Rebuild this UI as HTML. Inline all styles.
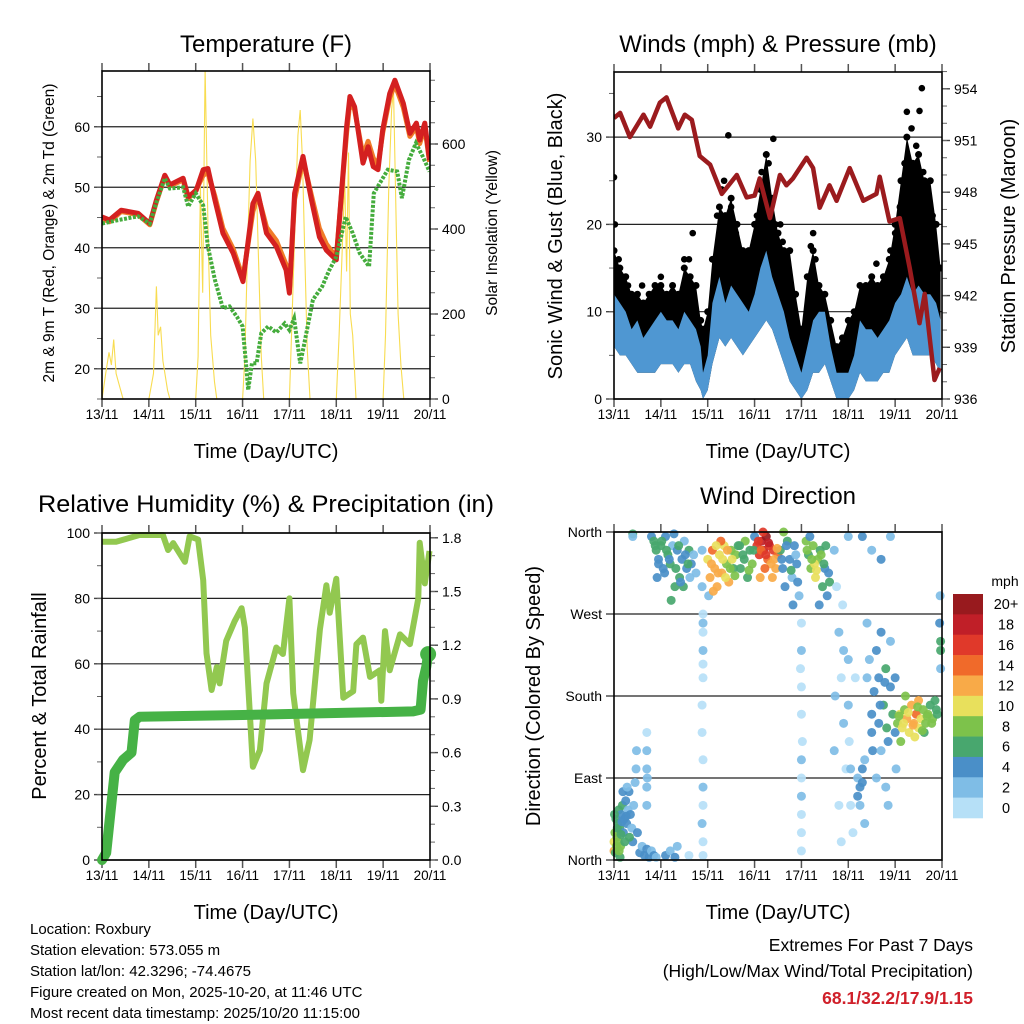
<!DOCTYPE html>
<html><head><meta charset="utf-8">
<style>
html,body{margin:0;padding:0;background:#fff;}
svg{display:block;font-family:"Liberation Sans",sans-serif;}
</style></head>
<body>
<svg id="fig" width="1024" height="1024" viewBox="0 0 1024 1024" xmlns="http://www.w3.org/2000/svg">
<rect width="1024" height="1024" fill="#fff"/>
<g id="g1"></g>
<g id="g2"></g>
<g id="g3"></g>
<g id="g4"></g>
<g id="g5"></g>
<text x="266" y="52" font-size="24" text-anchor="middle">Temperature (F)</text>
<text x="778" y="52" font-size="24" text-anchor="middle">Winds (mph) &amp; Pressure (mb)</text>
<text x="266" y="512" font-size="24" text-anchor="middle" textLength="456" lengthAdjust="spacingAndGlyphs">Relative Humidity (%) &amp; Precipitation (in)</text>
<text x="778" y="504" font-size="24" text-anchor="middle">Wind Direction</text>
<text x="266" y="458" font-size="20" text-anchor="middle">Time (Day/UTC)</text>
<text x="778" y="458" font-size="20" text-anchor="middle">Time (Day/UTC)</text>
<text x="266" y="919" font-size="20" text-anchor="middle">Time (Day/UTC)</text>
<text x="778" y="919" font-size="20" text-anchor="middle">Time (Day/UTC)</text>
<text transform="translate(54,233) rotate(-90)" font-size="15.5" text-anchor="middle">2m &amp; 9m T (Red, Orange) &amp; 2m Td (Green)</text>
<text transform="translate(497,233) rotate(-90)" font-size="15.5" text-anchor="middle">Solar Insolation (Yellow)</text>
<text transform="translate(562,236) rotate(-90)" font-size="20" text-anchor="middle">Sonic Wind &amp; Gust (Blue, Black)</text>
<text transform="translate(1015,236) rotate(-90)" font-size="20" text-anchor="middle">Station Pressure (Maroon)</text>
<text transform="translate(46,696) rotate(-90)" font-size="20" text-anchor="middle">Percent &amp; Total Rainfall</text>
<text transform="translate(540,696) rotate(-90)" font-size="20" text-anchor="middle">Direction (Colored By Speed)</text>
<g font-size="15">
<text x="30" y="934">Location: Roxbury</text>
<text x="30" y="955">Station elevation: 573.055 m</text>
<text x="30" y="976">Station lat/lon: 42.3296; -74.4675</text>
<text x="30" y="997">Figure created on Mon, 2025-10-20, at 11:46 UTC</text>
<text x="30" y="1018">Most recent data timestamp: 2025/10/20 11:15:00</text>
</g>
<g font-size="17.5" text-anchor="end">
<text x="973" y="951">Extremes For Past 7 Days</text>
<text x="973" y="977">(High/Low/Max Wind/Total Precipitation)</text>
<text x="973" y="1004" fill="#d0202a" font-weight="bold">68.1/32.2/17.9/1.15</text>
</g>
</svg>
<script>
// ---------- data ----------
const dayLabels=["13/11","14/11","15/11","16/11","17/11","18/11","19/11","20/11"];
const tempTimes=[0,0.16,0.41,0.77,1.02,1.16,1.34,1.45,1.73,1.84,2.01,2.16,2.26,2.41,2.58,2.8,3.01,3.22,3.33,3.51,3.72,3.93,4.0,4.11,4.29,4.47,4.64,4.79,5.0,5.22,5.29,5.39,5.57,5.68,5.79,5.89,5.99,6.14,6.25,6.43,6.57,6.71,6.78,6.89,6.99];
const tempRed=[45.1,44.6,46.2,45.7,44.0,47.9,52.0,50.4,51.5,48.4,49.5,52.9,53.1,47.9,42.4,39.1,34.4,47.3,49.0,42.4,40.2,36.3,32.5,49.0,55.1,47.9,41.8,39.6,38.0,60.0,65.0,63.3,54.0,56.7,53.4,52.9,59.5,65.5,67.7,63.9,58.9,60.6,57.8,60.6,54.5];
const tempOrange=[44.8,44.3,46.0,45.5,43.8,47.6,51.8,50.2,51.2,48.1,49.6,52.0,52.4,48.5,43.2,39.8,35.0,46.0,48.7,43.4,41.2,37.2,33.0,48.0,54.6,48.6,43.2,40.6,38.4,59.0,64.2,62.8,55.2,57.6,54.8,53.6,59.0,64.8,67.0,63.2,58.4,60.0,57.2,60.0,54.2];
const dewTimes=[0,0.3,0.77,1.02,1.16,1.34,1.45,1.73,1.84,2.0,2.16,2.26,2.41,2.58,2.72,2.88,3.0,3.08,3.12,3.2,3.3,3.4,3.55,3.72,3.9,4.0,4.1,4.23,4.3,4.5,4.7,4.85,5.0,5.2,5.35,5.5,5.7,5.8,6.1,6.3,6.4,6.55,6.7,6.85,6.99];
const dewValues=[44.0,44.5,45.2,44.0,47.5,51.5,49.8,50.0,46.8,49.0,47.0,40.2,34.7,30.0,30.3,28.6,27.0,20.3,16.5,20.9,20.9,25.9,27.0,26.0,27.5,26.4,28.3,20.9,23.5,31.4,33.6,36.3,38.5,45.1,42.4,39.1,36.9,49.0,52.9,52.6,48.2,54.5,57.3,55.0,52.6];
const solarTimes=[0,0.08,0.15,0.2,0.25,0.3,0.35,0.45, 1.0,1.1,1.16,1.2,1.25,1.3,1.4,1.45, 2.0,2.05,2.1,2.15,2.2,2.23,2.27,2.32,2.4,2.45, 3.0,3.05,3.1,3.16,3.22,3.28,3.34,3.4,3.45, 4.0,4.06,4.12,4.18,4.23,4.28,4.33,4.38,4.44, 5.0,5.06,5.12,5.18,5.22,5.26,5.3,5.35,5.42, 6.0,6.05,6.12,6.18,6.22,6.28,6.32,6.38,6.44];
const solarValues=[0,60,110,80,140,60,40,0, 0,60,265,150,170,90,20,0, 0,100,500,250,779,600,350,150,40,0, 0,100,330,560,660,560,330,100,0, 0,200,420,620,680,560,330,120,0, 0,150,330,520,300,580,200,150,0, 0,150,500,680,730,400,200,80,0];
const windTimes=[0,0.125,0.25,0.375,0.5,0.625,0.75,0.875,1.0,1.125,1.25,1.375,1.5,1.625,1.75,1.85,1.9,2.0,2.1,2.25,2.375,2.5,2.625,2.75,2.875,3.0,3.125,3.25,3.375,3.5,3.625,3.75,3.875,4.0,4.125,4.25,4.375,4.5,4.625,4.75,4.875,5.0,5.125,5.25,5.375,5.5,5.625,5.75,5.875,6.0,6.125,6.25,6.375,6.5,6.625,6.75,6.875,6.97];
const windHigh=[12,11,10,8,9,7,8,9,10,9,9,8,10,9,8,6,3,5,11,14,11,13,12,11,10,12,15,17,14,12,10,7,5,3,6,9,10,10,6,3,3,3,5,9,8,8,7,8,9,11,12,14,12,13,12,12,11,9];
const windLow=[6,5,5,4,3,3,3,3,4,4,4,3,4,4,2,1,0,1,4,7,6,7,6,5,6,7,8,9,8,6,4,2,1,0,1,3,3,4,2,0,0,0,1,3,2,2,2,3,3,5,6,7,5,5,5,5,4,3];
const gustHigh=[17,15,14,12,12,11,12,13,13,12,13,12,15,14,13,9,8,10,16,22,21,23,20,17,17,20,24,28,23,19,17,17,12,8,14,17,13,12,9,6,7,9,10,13,13,14,13,14,16,20,25,30,27,28,25,25,20,15];
const gustDotTimes=[0.0,2.44,6.57,6.25,3.4,1.68,5.6,6.52,0.02,3.3,2.3,2.5,2.6,2.2,3.15,3.25,3.45,3.6,6.1,6.2,6.35,6.45,6.6,6.7,6.8,4.2,4.3,0.1,0.3,0.6,1.0,1.3,1.5,1.6,5.9,6.0,2.35,3.05,3.55,4.25];
const gustDotValues=[25.4,30.2,35.6,32.9,29.8,19.0,15.5,33.0,20.0,27.0,24.0,22.0,19.0,21.0,26.0,25.0,20.0,18.0,22.0,27.0,31.0,29.0,26.0,24.0,21.0,17.5,16.0,16.0,13.0,13.0,14.0,12.0,16.0,16.0,17.0,19.0,25.0,21.0,20.0,19.0];
const pressTimes=[0,0.13,0.34,0.63,0.77,0.98,1.12,1.37,1.51,1.66,1.83,2.05,2.3,2.62,2.83,3.0,3.11,3.33,3.54,3.68,3.82,4.11,4.25,4.39,4.6,4.75,5.03,5.32,5.6,5.67,5.88,6.1,6.31,6.52,6.63,6.84,6.95];
const pressValues=[952.3,952.6,951.2,952.5,951.8,953.2,953.5,951.7,952.5,952.2,950.1,949.6,947.9,949.0,947.7,947.8,948.8,946.5,949.0,948.4,948.8,950.0,949.4,947.1,948.4,947.5,949.4,947.5,947.9,948.9,946.3,946.5,943.6,940.4,942.1,937.1,937.8];
const rhTimes=[0,0.3,0.8,1.3,1.41,1.52,1.77,1.87,2.05,2.16,2.23,2.34,2.45,2.51,2.65,2.83,2.98,3.05,3.22,3.37,3.51,3.72,3.86,4.0,4.08,4.29,4.43,4.65,4.79,4.86,5.0,5.15,5.36,5.43,5.57,5.72,5.93,5.96,6.04,6.14,6.36,6.57,6.75,6.78,6.89,6.99];
const rhValues=[97.3,97.3,99.4,99.4,94.8,96.9,91.2,99,98,85.6,63.2,52,59,54,67,73,77,71,28.5,33.6,54,65,63,80,51,27.5,36.7,70.5,84,75.6,86,49.6,51.6,66,68,56,58,48.7,70,58,69,66,80,97,84.6,94.5];
const rainTimes=[0,0.09,0.27,0.45,0.63,0.7,0.8,3.0,6.64,6.8,6.85,6.92,6.96];
const rainValues=[0,0.04,0.49,0.56,0.6,0.78,0.8,0.81,0.83,0.84,1.0,1.08,1.15];
const dirTimes=[0.0,0.0,0.02,0.04,0.06,0.08,0.1,0.12,0.14,0.16,0.18,0.2,0.22,0.25,0.27,0.3,0.32,0.35,0.38,0.4,0.42,0.45,0.47,0.48,0.5,0.55,0.6,0.65,0.7,0.75,0.8,0.85,0.9,0.03,0.01,0.09,0.13,0.19,0.28,
0.7,0.7,0.7,0.7,0.7,0.71,1.1,1.2,1.3,1.35,1.6,
0.8,0.85,0.9,0.95,1.0,1.05,1.1,1.15,1.2,1.25,1.3,1.35,1.4,1.45,1.5,1.55,1.6,1.65,1.7,1.75,0.92,1.22,1.28,1.48,0.4,0.4,
1.88,1.88,1.9,1.9,1.9,1.9,1.88,1.88,1.9,1.9,1.9,1.88,1.9,1.9,1.9,1.9,
2.0,2.05,2.1,2.15,2.2,2.25,2.3,2.35,2.4,2.45,2.5,2.55,2.6,2.02,2.12,2.28,2.38,2.65,2.7,2.75,2.8,2.85,2.9,2.95,3.0,
3.05,3.1,3.15,3.2,3.25,3.28,3.32,3.35,3.4,3.45,3.5,3.18,3.22,3.12,3.38,
3.55,3.6,3.65,3.7,3.75,3.8,3.85,3.9,3.95,3.62,3.82,
4.0,4.0,3.98,4.0,4.0,4.02,4.0,4.0,4.0,4.0,4.0,4.0,
4.1,4.15,4.2,4.25,4.3,4.35,4.4,4.45,4.5,4.55,4.6,4.18,4.28,4.38,
4.7,4.75,4.8,4.85,4.9,4.95,4.8,4.85,4.7,4.9,4.88,4.72,
5.0,5.0,5.02,5.05,5.05,5.1,5.15,5.2,5.2,5.25,5.3,5.25,5.3,5.35,5.35,5.4,5.4,5.45,5.5,5.5,5.52,5.55,5.6,5.6,5.65,5.65,5.7,5.7,5.75,5.8,5.8,5.85,5.85,5.9,5.9,5.95,6.0,6.0,6.02,
6.05,6.1,6.15,6.2,6.25,6.3,6.35,6.4,6.45,6.5,6.55,6.6,6.65,6.7,6.75,6.8,6.85,6.9,6.12,6.42,6.62,6.22,6.5,
6.97,6.97,6.95,6.97,6.96,5.0,5.3,5.5,5.9,5.7,
0.88,0.95,1.02,1.08,1.12,1.18,1.32,1.38,1.42,1.52,1.58,1.62,2.08,2.18,2.22,2.32,2.42,2.48,2.52,2.58,2.68,2.78,2.88,2.98,3.08,3.14,3.24,3.3,3.42,3.48,3.58,3.68,3.78,3.88,3.92,4.12,4.22,4.32,4.42,4.48,4.52,4.58,0.05,0.07,0.11,0.15,0.17,0.23,0.26,0.33,6.08,6.18,6.28,6.38,6.48,6.58,6.68,6.78,6.88,5.78,5.82,5.68];
const dirValues=[20,10,30,45,25,40,55,35,15,50,60,30,45,65,40,55,75,50,35,20,60,85,100,120,30,8,15,5,12,3,10,5,3,8,50,20,3,75,80,
60,80,100,120,140,90,5,10,3,15,5,
355,350,340,330,345,320,355,335,325,345,300,340,310,330,350,320,340,325,335,315,310,285,358,300,358,355,
340,300,270,250,230,200,170,140,110,80,60,40,20,5,260,215,
330,310,340,320,300,335,315,345,325,305,340,320,335,290,295,350,310,345,320,335,350,310,340,325,355,
345,335,350,340,355,330,345,325,340,320,335,360,320,310,310,
340,320,300,350,330,310,345,325,290,360,280,
260,230,210,190,160,130,110,90,70,50,30,10,
350,335,320,345,310,330,340,300,320,290,305,355,325,280,
340,300,250,200,150,100,60,20,120,230,280,180,
220,170,130,100,60,30,200,90,70,80,100,60,85,40,110,260,200,220,160,140,120,185,230,90,200,150,250,120,170,210,80,130,60,190,240,160,140,200,100,
150,160,145,165,155,140,170,150,160,145,155,165,150,160,170,155,175,160,130,135,140,180,175,
240,230,260,210,290,355,355,340,355,330,
345,325,350,315,340,330,320,345,305,335,325,310,325,345,315,330,340,320,330,312,345,330,318,340,350,340,335,348,330,342,330,345,318,335,305,340,330,318,335,325,345,315,15,35,10,28,42,20,48,25,158,150,162,148,168,142,158,150,165,195,145,170];
const dirSpeeds=[10,12,9,6,8,7,6,7,8,5,6,5,4,4,5,3,4,4,3,4,3,3,2,2,4,5,3,4,4,5,3,4,3,6,7,9,6,4,3,
2,2,2,2,1,2,4,3,4,2,1,
5,6,6,5,7,5,4,7,6,3,7,5,6,4,3,5,7,4,3,3,4,6,4,7,7,3,
3,2,1,1,2,1,1,1,1,2,1,2,1,1,3,1,
11,12,14,13,12,10,12,10,8,13,9,7,8,3,13,15,11,7,7,6,8,7,6,8,5,
16,17,19,18,21,15,17,13,16,12,14,16,14,12,13,
6,5,4,7,5,3,4,5,3,8,4,
1,2,1,1,1,1,2,1,3,1,1,1,
8,7,9,8,10,8,6,7,4,4,6,5,11,4,
2,1,2,1,2,1,1,1,2,3,1,2,
3,2,1,2,1,1,1,3,4,4,4,3,5,2,3,2,3,2,4,4,4,5,4,3,5,4,4,3,6,7,3,4,2,5,3,6,4,5,3,
9,10,11,9,12,10,13,12,14,10,11,9,8,9,7,8,7,7,8,10,7,8,12,
6,7,4,3,2,2,4,3,2,4,
6,5,7,4,6,5,7,6,4,5,6,3,12,11,13,10,12,9,10,8,7,6,8,6,17,15,16,18,13,12,5,4,6,3,4,8,9,10,8,7,6,4,8,7,9,6,5,7,4,6,9,11,10,12,9,8,9,8,7,5,6,5];
const speedLabels=["0","2","4","6","8","10","12","14","16","18","20+"];
const speedColors=["#b6e0f7","#7fbde6","#4a8fc8","#48a76e","#7dc24b","#e8e05c","#f8aa48","#f06a2a","#e0392a","#c01f28","#981a1e"];
const tempTicks=[20,30,40,50,60];
const solarTicks=[0,200,400,600];
const windTicks=[0,10,20,30];
const pressTicks=[936,939,942,945,948,951,954];
const rhTicks=[0,20,40,60,80,100];
const rainTicks=[0,0.3,0.6,0.9,1.2,1.5,1.8];
const rainTickLabels=["0.0","0.3","0.6","0.9","1.2","1.5","1.8"];
const dirTicks=[0,90,180,270,360];
const dirLabels=["North","East","South","West","North"];

// ---------- helpers ----------
const NS="http://www.w3.org/2000/svg";
function el(parent,tag,attrs){const e=document.createElementNS(NS,tag);for(const k in attrs)e.setAttribute(k,attrs[k]);parent.appendChild(e);return e;}
function lin(d0,d1,r0,r1){return v=>r0+(v-d0)*(r1-r0)/(d1-d0);}
function pathFrom(ts,vs,sx,sy){return ts.map((t,i)=>(i?"L":"M")+sx(t).toFixed(1)+","+sy(vs[i]).toFixed(1)).join("");}
function speedColor(s){return speedColors[Math.min(10,Math.floor(s/2))];}

function frame(g,L,R,T,B,sx){
  for(let d=0;d<=7;d++){
    const x=sx(d);
    el(g,"line",{x1:x,y1:B,x2:x,y2:B+8,stroke:"#555","stroke-width":1.5});
    el(g,"line",{x1:x,y1:T,x2:x,y2:T-8,stroke:"#555","stroke-width":1.5});
    const t=el(g,"text",{x:x,y:B+20,"font-size":13.5,"text-anchor":"middle"});
    t.textContent=dayLabels[d];
    
    
  }
}
function box(g,L,R,T,B){
  const r=el(g,"rect",{x:L,y:T,width:R-L,height:B-T,fill:"none",stroke:"#000","stroke-width":1.6});
  
  
}
function yAxis(g,vals,labels,sy,xEdge,side,grid,L,R,minorStep,d0,d1){
  vals.forEach((v,i)=>{
    const y=sy(v);
    if(grid){const gl=el(g,"line",{x1:L,y1:y,x2:R,y2:y,stroke:"#222","stroke-width":1.2});
      
      }
    const dx=side<0?-8:8;
    el(g,"line",{x1:xEdge,y1:y,x2:xEdge+dx,y2:y,stroke:"#444","stroke-width":1.4});
    const t=el(g,"text",{x:xEdge+(side<0?-12:12),y:y+5,"font-size":14,"text-anchor":side<0?"end":"start"});
    t.textContent=labels[i];
    
    
  });
  if(minorStep){for(let v=d0;v<=d1+1e-9;v+=minorStep){const y=sy(v);el(g,"line",{x1:xEdge,y1:y,x2:xEdge+(side<0?-5:5),y2:y,stroke:"#666","stroke-width":1});}}
}

// ---------- Panel 1 ----------
(function(){
  const g=document.getElementById("g1");
  const L=102,R=430,T=71,B=399;
  const sx=lin(0,7,L,R), sy=lin(15,15+(B-T)/6.05,B,T), sS=lin(0,200,B,B-85);
  frame(g,L,R,T,B,sx);
  yAxis(g,tempTicks,tempTicks.map(String),sy,L,-1,true,L,R,5,15,69);
  yAxis(g,solarTicks,solarTicks.map(String),sS,R,1,false,L,R,50,0,750);
  const cp=el(g,"clipPath",{id:"c1"});el(cp,"rect",{x:L,y:T,width:R-L,height:B-T});
  const p=el(g,"g",{"clip-path":"url(#c1)"});
  const s=el(p,"path",{d:pathFrom(solarTimes,solarValues,sx,sS),fill:"none",stroke:"#f8dc50","stroke-width":1.1});
  
  
  const o=el(p,"path",{d:pathFrom(tempTimes,tempOrange,sx,sy),fill:"none",stroke:"#f07b28","stroke-width":5,"stroke-linejoin":"round"});
  
  
  const r=el(p,"path",{d:pathFrom(tempTimes,tempRed,sx,sy),fill:"none",stroke:"#d42020","stroke-width":5,"stroke-linejoin":"round"});
  
  
  const d=el(p,"path",{d:pathFrom(dewTimes,dewValues,sx,sy),fill:"none",stroke:"#44ac3c","stroke-width":4,"stroke-dasharray":"3,1.5"});
  
  
  box(g,L,R,T,B);
})();

// ---------- Panel 2 ----------
(function(){
  const g=document.getElementById("g2");
  const L=614,R=942,T=72,B=399;
  const sx=lin(0,7,L,R), sy=lin(0,10,B,B-87.3), sp=lin(936,939,B,B-51.7);
  frame(g,L,R,T,B,sx);
  yAxis(g,windTicks,windTicks.map(String),sy,L,-1,true,L,R,5,0,35);
  yAxis(g,pressTicks,pressTicks.map(String),sp,R,1,false,L,R,1,936,955);
  const cp=el(g,"clipPath",{id:"c2"});el(cp,"rect",{x:L,y:T,width:R-L,height:B-T});
  const p=el(g,"g",{"clip-path":"url(#c2)"});
  const gp=pathFrom(windTimes,gustHigh,sx,sy)+pathFrom(windTimes.slice().reverse(),windLow.slice().reverse(),sx,sy).replace("M","L")+"Z";
  const ga=el(p,"path",{d:gp,fill:"#000"});
  
  
  windTimes.forEach((t,i)=>{
    const c=el(p,"circle",{cx:sx(t),cy:sy(gustHigh[i]),r:3.5,fill:"#000"});
    
    
  });
  gustDotTimes.forEach((t,i)=>{
    const c=el(p,"circle",{cx:sx(t),cy:sy(gustDotValues[i]),r:3.3,fill:"#000"});
    
    
  });
  const bp=pathFrom(windTimes,windHigh,sx,sy)+pathFrom(windTimes.slice().reverse(),windLow.slice().reverse(),sx,sy).replace("M","L")+"Z";
  const ba=el(p,"path",{d:bp,fill:"#4f97d2"});
  
  
  const pl=el(p,"path",{d:pathFrom(pressTimes,pressValues,sx,sp),fill:"none",stroke:"#9b1b1e","stroke-width":4.5,"stroke-linejoin":"round"});
  
  
  box(g,L,R,T,B);
})();

// ---------- Panel 3 ----------
(function(){
  const g=document.getElementById("g3");
  const L=102,R=430,T=533,B=860;
  const sx=lin(0,7,L,R), sy=lin(0,100,B,T), sr=lin(0,0.3,B,B-53.7);
  frame(g,L,R,T,B,sx);
  yAxis(g,rhTicks,rhTicks.map(String),sy,L,-1,true,L,R,10,0,100);
  yAxis(g,rainTicks,rainTickLabels,sr,R,1,false,L,R,0.1,0,1.8);
  const rh=el(g,"path",{d:pathFrom(rhTimes,rhValues,sx,sy),fill:"none",stroke:"#92c850","stroke-width":6,"stroke-linejoin":"round"});
  
  
  const rn=el(g,"path",{d:pathFrom(rainTimes,rainValues,sx,sr),fill:"none",stroke:"#46b246","stroke-width":10,"stroke-linejoin":"round","stroke-linecap":"round"});
  
  
  const n=rainTimes.length-1;
  const ed=el(g,"circle",{cx:sx(rainTimes[n]),cy:sr(rainValues[n]),r:8,fill:"#46b246"});
  
  
  box(g,L,R,T,B);
})();

// ---------- Panel 4 ----------
(function(){
  const g=document.getElementById("g4");
  const L=614,R=942,T=532,B=860;
  const sx=lin(0,7,L,R), sy=lin(0,360,B,T);
  frame(g,L,R,T,B,sx);
  yAxis(g,dirTicks,dirLabels,sy,L,-1,true,L,R,0,0,0);
  dirTimes.forEach((t,i)=>{
    const c=el(g,"circle",{cx:sx(t),cy:sy(dirValues[i]),r:4.5,fill:speedColor(dirSpeeds[i]),"fill-opacity":0.92});
    
    
  });
  box(g,L,R,T,B);
})();

// ---------- Colorbar ----------
(function(){
  const g=document.getElementById("g5");
  const x=953,w=30,top=594,h=224/11;
  const m=el(g,"text",{x:1005,y:586,"font-size":14,"text-anchor":"middle"});
  m.textContent="mph";
  
  
  for(let i=0;i<11;i++){
    const k=10-i;
    const y=top+i*h;
    const r=el(g,"rect",{x:x,y:y,width:w,height:h+0.3,fill:speedColors[k]});
    
    
    const t=el(g,"text",{x:1006,y:y+h/2+5,"font-size":14.5,"text-anchor":"middle"});
    t.textContent=speedLabels[k];
    
    
  }
})();
</script>
</body></html>
